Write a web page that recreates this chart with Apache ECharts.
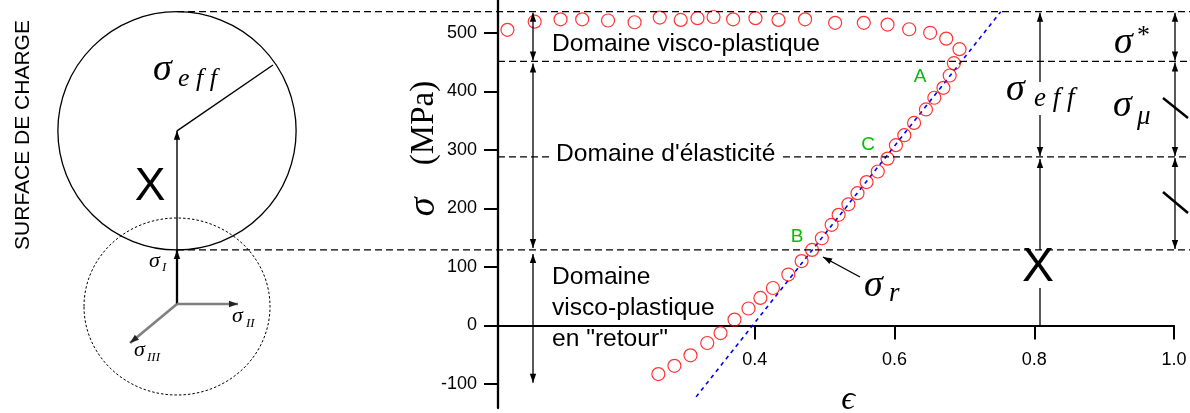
<!DOCTYPE html>
<html>
<head>
<meta charset="utf-8">
<script src="https://cdn.jsdelivr.net/npm/echarts@6/dist/echarts.min.js"></script>
<style>
  html, body { margin: 0; padding: 0; background: #fff; }
  #chart { width: 1190px; height: 413px; }
</style>
</head>
<body>
<div id="chart"></div>
<script>
// Strain ε and stress σ (MPa): visco-plastic plateau, then the unloading branch
const plateauEps   = [0.046, 0.085, 0.122, 0.153, 0.190, 0.228, 0.264, 0.294, 0.318, 0.341, 0.369,
                      0.401, 0.434, 0.472, 0.515, 0.556, 0.590, 0.621, 0.651, 0.674, 0.693];
const plateauSigma = [505, 519, 523, 523, 521, 518, 526, 522, 525, 527, 523,
                      525, 522, 523, 517, 517, 514, 506, 500, 490, 472];
const unloadEps    = [0.685, 0.679, 0.670, 0.657, 0.645, 0.628, 0.614, 0.602, 0.590, 0.576, 0.560,
                      0.547, 0.534, 0.520, 0.510, 0.496, 0.482, 0.467, 0.448, 0.426, 0.408, 0.391,
                      0.371, 0.351, 0.332, 0.308, 0.285, 0.262];
const unloadSigma  = [448, 427, 406, 389, 369, 346, 325, 308, 285, 263, 245,
                      226, 207, 189, 172, 149, 129, 110, 87, 64, 47, 29,
                      10, -13, -30, -51, -69, -83];

// Elastic slope reference line (end points)
const elasticEps   = [0.316, 0.752];
const elasticSigma = [-122, 536];

// Stress levels bounding the domains (MPa): peak, yield, centre X, return threshold σr
const levelPeak = 536;
const levelYield = 451;
const levelCentre = 288;
const levelReturn = 129;

// Tick values
const xTicks = [0.4, 0.6, 0.8, 1.0];
const xTickLabels = ['0.4', '0.6', '0.8', '1.0'];
const yTicks = [-100, 0, 100, 200, 300, 400, 500];

const SANS = '"Liberation Sans", Arial, sans-serif';
const SERIF = '"Liberation Serif", "DejaVu Serif", serif';

const chart = echarts.init(document.getElementById('chart'), null, { renderer: 'canvas' });

const points = plateauEps.map((e, i) => [e, plateauSigma[i]])
  .concat(unloadEps.map((e, i) => [e, unloadSigma[i]]));

chart.setOption({
  animation: false,
  backgroundColor: '#fff',
  grid: { left: 498, right: 16, top: 0, bottom: 5, containLabel: false, outerBoundsMode: 'none' },
  xAxis: {
    type: 'value', min: 0.0325, max: 1.0,
    axisLine: { onZero: true, lineStyle: { color: '#000', width: 2 } },
    axisTick: { customValues: xTicks, length: 14, lineStyle: { color: '#000', width: 2 } },
    // tick labels are placed below the σ = 0 line (see graphic texts)
    axisLabel: { show: false },
    splitLine: { show: false }
  },
  yAxis: {
    type: 'value', min: -141, max: 556,
    axisLine: { show: true, onZero: false, lineStyle: { color: '#000', width: 2.3 } },
    axisTick: { show: true, customValues: yTicks, length: 14, lineStyle: { color: '#000', width: 2 } },
    axisLabel: { customValues: yTicks, color: '#000', fontSize: 18, fontFamily: SANS, margin: 21 },
    splitLine: { show: false }
  },
  series: [
    {
      type: 'line',
      data: elasticEps.map((e, i) => [e, elasticSigma[i]]),
      symbol: 'none',
      lineStyle: { color: '#0000ff', width: 1.6, type: [4, 4] },
      z: 2
    },
    {
      type: 'scatter',
      data: points,
      symbol: 'circle',
      symbolSize: 13,
      itemStyle: { color: 'rgba(0,0,0,0)', borderColor: '#ff0000', borderWidth: 1.2 },
      z: 3
    }
  ]
});

const py = v => chart.convertToPixel({ yAxisIndex: 0 }, v);
const px = v => chart.convertToPixel({ xAxisIndex: 0 }, v);

const yPeak = py(levelPeak), yYield = py(levelYield), yCentre = py(levelCentre),
      yReturn = py(levelReturn), yZero = py(0);

const g = [];
function seg(x1, y1, x2, y2, st) {
  g.push({ type: 'line', silent: true, z: 10,
    shape: { x1, y1, x2, y2 },
    style: Object.assign({ stroke: '#000', lineWidth: 1.3 }, st || {}) });
}
function dashed(x1, x2, y) { seg(x1, y, x2, y, { lineDash: [7, 4], lineWidth: 1.3 }); }
function head(x, y, dx, dy, color) {
  const L = Math.hypot(dx, dy), ux = dx / L, uy = dy / L, len = 9, w = 3.2;
  const bx = x - ux * len, by = y - uy * len;
  g.push({ type: 'polygon', silent: true, z: 11,
    shape: { points: [[x, y], [bx - uy * w, by + ux * w], [bx + uy * w, by - ux * w]] },
    style: { fill: color || '#000' } });
}
// arrow from (x1,y1) to (x2,y2), head at the end; optional head at the start
function arrow(x1, y1, x2, y2, both, st, headColor) {
  seg(x1, y1, x2, y2, st);
  head(x2, y2, x2 - x1, y2 - y1, headColor);
  if (both) head(x1, y1, x1 - x2, y1 - y2, headColor);
}
function text(str, x, y, o) {
  o = o || {};
  g.push({ type: 'text', silent: true, z: 12, x, y, rotation: o.rotation || 0,
    style: { text: str, fill: o.color || '#000', fontSize: o.size || 24,
             fontFamily: o.family || SANS, fontStyle: o.style || 'normal',
             align: o.align || 'left', verticalAlign: o.valign || 'middle' } });
}

// ---- x tick labels under the σ = 0 axis line ----
xTicks.forEach((v, i) => text(xTickLabels[i], px(v), yZero + 35, { size: 18, align: 'center' }));

// ---- horizontal level lines ----
dashed(177, 1190, yPeak);
dashed(498, 1190, yYield);
dashed(498, 553, yCentre);
dashed(783, 1190, yCentre);
dashed(177, 1190, yReturn);

// ---- load surface sketch ----
text('SURFACE DE CHARGE', 23, 135, { size: 21, rotation: Math.PI / 2, align: 'center' });
const cx = 177, cy = (yPeak + yReturn) / 2, rr = (yReturn - yPeak) / 2;
g.push({ type: 'circle', silent: true, z: 10, shape: { cx, cy, r: rr },
  style: { fill: 'none', stroke: '#000', lineWidth: 1.3 } });
g.push({ type: 'ellipse', silent: true, z: 10, shape: { cx: 177, cy: 306.5, rx: 93, ry: 88.5 },
  style: { fill: 'none', stroke: '#000', lineWidth: 1, lineDash: [2.5, 2] } });
const ox = 177, oy = 304;
arrow(ox, oy, ox, yReturn, false, { lineWidth: 2.3 });
arrow(ox, yReturn, ox, cy, false, { lineWidth: 1.4 });
seg(cx, cy, 273, 65, { lineWidth: 1.4 });
arrow(ox, oy, 238, oy, false, { stroke: '#808080', lineWidth: 2.6 }, '#222');
arrow(ox, oy, 130, 343, false, { stroke: '#808080', lineWidth: 2.6 }, '#222');

text('σ', 153, 70, { family: SERIF, style: 'italic', size: 38 });
text('e f f', 178, 79, { family: SERIF, style: 'italic', size: 26 });
text('X', 150, 187, { size: 46, align: 'center' });
text('σ', 149, 261, { family: SERIF, style: 'italic', size: 22 });
text('I', 162, 268, { family: SERIF, style: 'italic', size: 13 });
text('σ', 232, 316, { family: SERIF, style: 'italic', size: 22 });
text('II', 246, 324, { family: SERIF, style: 'italic', size: 13 });
text('σ', 134, 350, { family: SERIF, style: 'italic', size: 22 });
text('III', 147, 358, { family: SERIF, style: 'italic', size: 13 });

// ---- axis titles ----
text('σ', 424, 207, { family: SERIF, style: 'italic', size: 38, rotation: Math.PI / 2, align: 'center' });
text('(MPa)', 424, 123, { family: SERIF, size: 33, rotation: Math.PI / 2, align: 'center' });
text('\u03F5', 848, 400, { family: SERIF, style: 'italic', size: 34, align: 'center' });

// ---- domain labels and arrows on the left ----
text('Domaine visco-plastique', 552, 44, { size: 24.6 });
text("Domaine d'élasticité", 556, 154, { size: 24.6 });
text('Domaine', 552, 277, { size: 24.6 });
text('visco-plastique', 552, 308, { size: 24.6 });
text('en "retour"', 552, 339, { size: 24.6 });
arrow(533, yPeak + 1, 533, yYield - 1, true);
arrow(533, yYield + 2, 533, yReturn - 2, true);
arrow(533, yReturn + 4, 533, py(-98), true);

// ---- points on the curve ----
text('A', 920, 77, { size: 19, color: '#00c000', align: 'center' });
text('C', 868, 145, { size: 19, color: '#00c000', align: 'center' });
text('B', 797, 237, { size: 19, color: '#00c000', align: 'center' });
arrow(860, 277, 823, 257, false, { lineWidth: 1.4 });
text('σ', 864, 286, { family: SERIF, style: 'italic', size: 38 });
text('r', 889, 294, { family: SERIF, style: 'italic', size: 27 });

// ---- right-hand decomposition ----
const xa = 1040;
arrow(xa, 82, xa, yPeak + 1, false);
arrow(xa, 115, xa, yCentre - 1, false);
arrow(xa, yReturn, xa, yCentre + 2, false);
seg(xa, 288, xa, yZero);
text('σ', 1006, 90, { family: SERIF, style: 'italic', size: 38 });
text('e f f', 1034, 99, { family: SERIF, style: 'italic', size: 27 });
text('X', 1038, 268, { size: 48, align: 'center' });

const xb = 1175;
arrow(xb, yPeak + 1, xb, yYield - 1, true);
arrow(xb, yYield + 1, xb, yCentre - 1, true);
arrow(xb, yCentre + 1, xb, yReturn - 1, true);
seg(1163, 98, 1188, 118, { lineWidth: 2.5 });
seg(1163, 192, 1188, 213, { lineWidth: 2.5 });
text('σ', 1114, 43, { family: SERIF, style: 'italic', size: 38 });
text('*', 1137, 36, { family: SERIF, size: 26 });
text('σ', 1113, 106, { family: SERIF, style: 'italic', size: 38 });
text('μ', 1137, 117, { family: SERIF, style: 'italic', size: 27 });

chart.setOption({ graphic: { elements: g } });
</script>
</body>
</html>
